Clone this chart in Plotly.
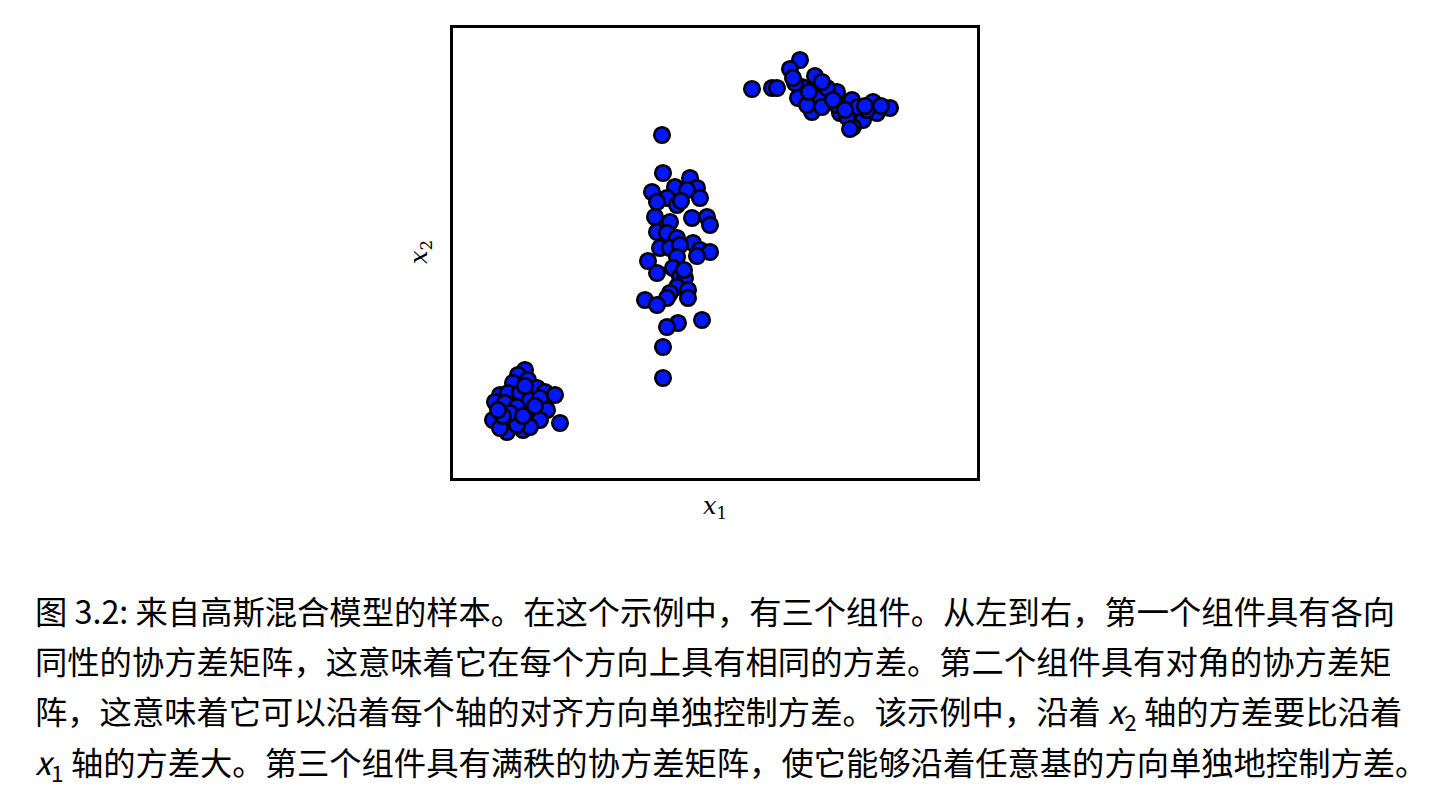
import plotly.graph_objects as go

# Cluster 1: isotropic covariance
c1_x = [72, 65, 75, 60, 84, 92, 102, 47, 55, 67, 77, 87, 42, 52, 64, 94, 79, 40, 60, 87, 107, 54, 70, 47, 77, 64,
        57, 70, 82, 50, 72, 45]
c1_y = [108, 103, 98, 95, 90, 86, 83, 83, 85, 85, 78, 80, 76, 75, 71, 68, 65, 58, 58, 58, 55, 46, 48, 50, 51, 53,
        65, 62, 72, 62, 92, 68]

# Cluster 2: diagonal covariance
c2_x = [209, 210, 199, 222, 237, 244, 234, 214, 224, 204, 247, 239, 254, 257, 202, 217, 204, 214, 224, 207, 217,
        240, 247, 257, 227, 244, 195, 224, 204, 220, 227, 232, 224, 235, 217, 214, 192, 204, 235, 225, 214, 249,
        210, 210, 228, 231]
c2_y = [343, 305, 286, 291, 300, 290, 288, 280, 273, 276, 280, 260, 261, 253, 261, 256, 246, 245, 240, 230, 230,
        235, 228, 226, 233, 222, 217, 221, 205, 210, 201, 200, 191, 188, 185, 180, 178, 173, 180, 155, 151, 158,
        131, 100, 277, 208]

# Cluster 3: full-rank covariance
c3_x = [299, 319, 324, 347, 337, 362, 349, 342, 345, 367, 384, 399, 420, 437, 424, 410, 400, 387, 374, 359, 354,
        369, 394, 384, 414, 405, 369, 340, 356, 397, 380, 412, 428, 392]
c3_y = [389, 390, 390, 418, 409, 402, 391, 395, 380, 380, 386, 378, 376, 370, 365, 358, 351, 365, 390, 366, 373,
        371, 361, 373, 368, 371, 396, 400, 386, 349, 378, 372, 372, 368]

xs = c1_x + c2_x + c3_x
ys = c1_y + c2_y + c3_y

caption_lines = [
    "图 3.2: 来自高斯混合模型的样本。在这个示例中，有三个组件。从左到右，第一个组件具有各向",
    "同性的协方差矩阵，这意味着它在每个方向上具有相同的方差。第二个组件具有对角的协方差矩",
    "阵，这意味着它可以沿着每个轴的对齐方向单独控制方差。该示例中，沿着 <i>x</i><sub>2</sub> 轴的方差要比沿着",
    "<i>x</i><sub>1</sub> 轴的方差大。第三个组件具有满秩的协方差矩阵，使它能够沿着任意基的方向单独地控制方差。",
]

fig = go.Figure()
fig.add_trace(go.Scatter(
    x=xs, y=ys, mode="markers",
    marker=dict(size=15.5, color="#0016ff", line=dict(color="black", width=2.6)),
    showlegend=False, hoverinfo="skip",
))

W, H = 1446, 807
L, R, T, B = 453, 977, 28, 478
fig.update_layout(
    width=W, height=H,
    margin=dict(l=L, r=W - R, t=T, b=H - B, pad=0),
    paper_bgcolor="white", plot_bgcolor="white",
    xaxis=dict(range=[0, 524], showgrid=False, zeroline=False, showticklabels=False, ticks="",
               showline=True, mirror=True, linecolor="black", linewidth=3),
    yaxis=dict(range=[0, 450], showgrid=False, zeroline=False, showticklabels=False, ticks="",
               showline=True, mirror=True, linecolor="black", linewidth=3),
)

serif = "DejaVu Serif"
fig.add_annotation(xref="paper", yref="paper", x=0.5, y=(H - 507 - (H - B)) / (B - T),
                   text="<i>x</i><sub>1</sub>", showarrow=False, xanchor="center", yanchor="middle",
                   font=dict(family=serif, size=24, color="black"))
fig.add_annotation(xref="paper", yref="paper", x=(420 - L) / (R - L), y=(B - 252) / (B - T),
                   text="<i>x</i><sub>2</sub>", showarrow=False, xanchor="center", yanchor="middle",
                   textangle=-90, font=dict(family=serif, size=24, color="black"))

line_centers = [610, 660, 712, 763]
for txt, cy in zip(caption_lines, line_centers):
    fig.add_annotation(xref="paper", yref="paper", x=(33 - L) / (R - L), y=(B - cy) / (B - T),
                       text=txt, showarrow=False, xanchor="left", yanchor="middle",
                       font=dict(family="Noto Sans CJK SC", size=32.3, color="black"))

fig.write_html("out.html")
